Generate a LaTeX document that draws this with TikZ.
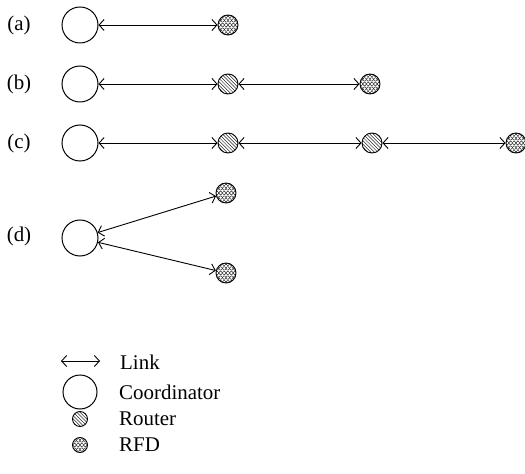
\documentclass[tikz,border=0pt]{standalone}
\usepackage{fontspec}
\setmainfont{Liberation Serif}
\usetikzlibrary{arrows.meta}
\tikzset{
  lnk/.style={{Straight Barb[length=5bp,width=11bp]}-{Straight Barb[length=5bp,width=11bp]}, line width=0.9bp},
  coord/.style={circle, draw, line width=1bp, minimum size=36bp, inner sep=0pt},
  smallcoord/.style={coord, minimum size=34bp},
  router/.style={circle, draw, line width=0.9bp, minimum size=20bp, inner sep=0pt,
    path picture={
      \begin{scope}[shift={(path picture bounding box.center)}]
        \foreach \k in {-5,...,5}
          \draw[line width=0.5bp, black!85] (\k*3.4-12,-12) -- (\k*3.4+12,12);
      \end{scope}}},
  rfd/.style={circle, draw, line width=0.9bp, minimum size=20bp, inner sep=0pt,
    path picture={
      \begin{scope}[shift={(path picture bounding box.center)}]
        \foreach \k in {-3,...,3}{
          \draw[line width=0.5bp, black!85] plot[domain=-12:12, samples=30, smooth] (\x, {\k*4.6 + 1.8*sin(\x*50)});
          \draw[line width=0.5bp, black!85] plot[domain=-12:12, samples=30, smooth] (\x, {\k*4.6 - 1.8*sin(\x*50)});
        }
      \end{scope}}},
  smallrouter/.style={router, minimum size=15bp},
  smallrfd/.style={rfd, minimum size=15bp},
  lbl/.style={font=\fontsize{21}{24}\selectfont, inner sep=0pt},
  leg/.style={lbl, anchor=west}
}
\begin{document}
\begin{tikzpicture}[x=1bp, y=-1bp]
\useasboundingbox (0,0) rectangle (525,474);
% row a
\node[lbl] (la) at (19,25) {(a)};
\node[coord] (ca) at (80,25) {};
\node[rfd] (ra) at (228,25) {};
\draw[lnk] (ca) -- (ra);
% row b
\node[lbl] (lb) at (19,84) {(b)};
\node[coord] (cb) at (80,84) {};
\node[router] (rb1) at (228,84) {};
\node[rfd] (rb2) at (370,84) {};
\draw[lnk] (cb) -- (rb1);
\draw[lnk] (rb1) -- (rb2);
% row c
\node[lbl] (lc) at (19,143) {(c)};
\node[coord] (cc) at (80,143) {};
\node[router] (rc1) at (228,143) {};
\node[router] (rc2) at (372,143) {};
\node[rfd] (rc3) at (516,143) {};
\draw[lnk] (cc) -- (rc1);
\draw[lnk] (rc1) -- (rc2);
\draw[lnk] (rc2) -- (rc3);
% row d
\node[lbl] (ld) at (19,236) {(d)};
\node[coord] (cd) at (80,238) {};
\node[rfd] (rd1) at (226,193) {};
\node[rfd] (rd2) at (226,273) {};
\draw[lnk] (cd) -- (rd1);
\draw[lnk] (cd) -- (rd2);
% legend
\coordinate (la1) at (61,361);
\coordinate (la2) at (100,361);
\draw[lnk] (la1) -- (la2);
\node[leg] (tlink) at (120,362) {Link};
\node[smallcoord] (lgc) at (80,392) {};
\node[leg] (tcoord) at (119,392) {Coordinator};
\node[smallrouter] (lgr) at (80,419) {};
\node[leg] (trouter) at (119,419) {Router};
\node[smallrfd] (lgf) at (80,445) {};
\node[leg] (trfd) at (119,445) {RFD};
\end{tikzpicture}
\end{document}
